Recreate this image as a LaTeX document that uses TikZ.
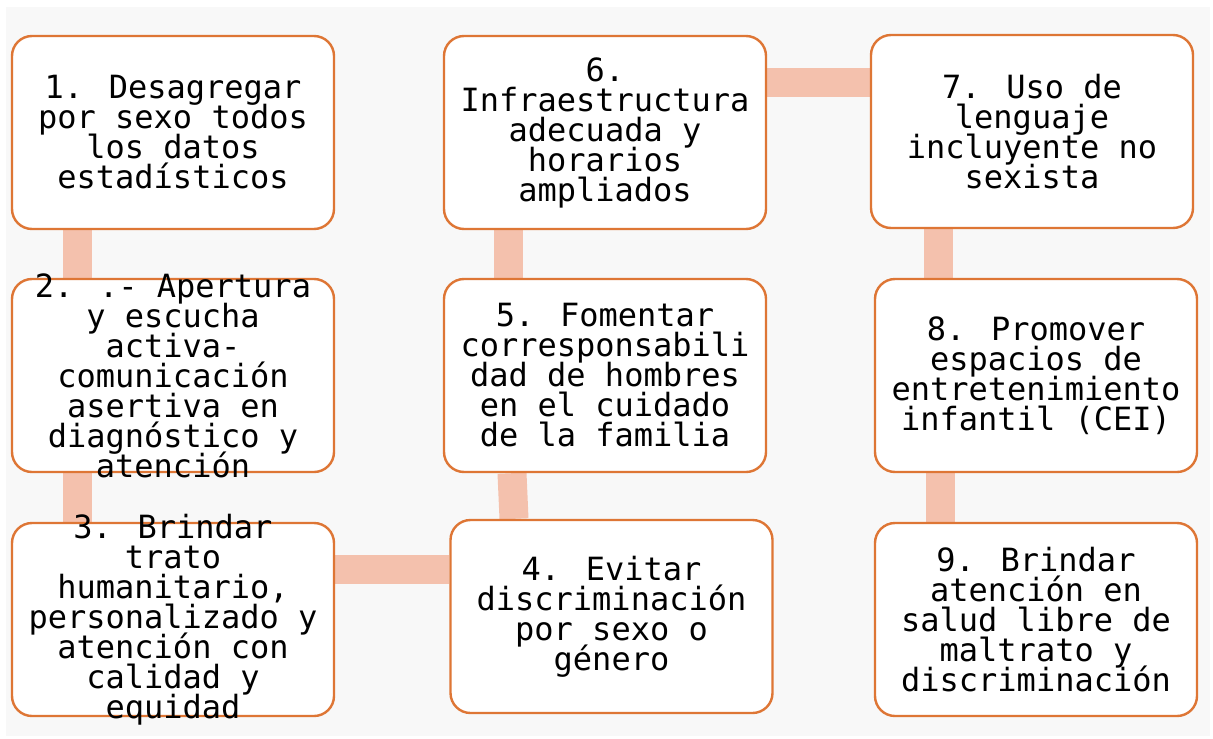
\documentclass[tikz,border=0pt]{standalone}
\usepackage{fontspec}
\usepackage{tikz}
\usetikzlibrary{backgrounds}
\newfontfamily\boxfont{DejaVu Sans Mono}
\newcommand\stepfont{\boxfont\fontsize{16}{15}\selectfont\lineskiplimit=-100pt\relax\lineskip=0pt\relax}
\definecolor{boxline}{HTML}{DE7635}
\definecolor{linkfill}{HTML}{F4C1AD}
\definecolor{pagegray}{HTML}{F8F8F8}
\tikzset{
  stepbox/.style={draw=boxline, line width=1.2pt, fill=white, rounded corners=10pt,
    minimum width=161pt, minimum height=96.5pt, inner sep=0pt},
  steptext/.style={align=center, inner sep=0pt, font=\stepfont},
  link/.style={line width=14.5pt, draw=linkfill}
}

\begin{document}
\begin{tikzpicture}[x=0.5pt, y=-0.5pt]
      \useasboundingbox (0,0) rectangle (1213,738);

      % Boxes
      \node[stepbox] (b1) at (173,132.5) {};
      \node[stepbox] (b2) at (173,375.5) {};
      \node[stepbox] (b3) at (173,619.5) {};
      \node[stepbox] (b4) at (611.5,616.5) {};
      \node[stepbox] (b5) at (605,375.5) {};
      \node[stepbox] (b6) at (605,132.5) {};
      \node[stepbox] (b7) at (1032,131.5) {};
      \node[stepbox] (b8) at (1036,375.5) {};
      \node[stepbox] (b9) at (1036,619.5) {};

      % Box texts
      \node[steptext] (t1) at (b1) {1. Desagregar\\por sexo todos\\los datos\\estadísticos};
      \node[steptext] (t2) at (b2) {2. .- Apertura\\y escucha\\activa-\\comunicación\\asertiva en\\diagnóstico y\\atención};
      \node[steptext] (t3) at (b3) {3. Brindar\\trato\\humanitario,\\personalizado y\\atención con\\calidad y\\equidad};
      \node[steptext] (t4) at (b4) {4. Evitar\\discriminación\\por sexo o\\género};
      \node[steptext] (t5) at (b5) {5. Fomentar\\corresponsabili\\dad de hombres\\en el cuidado\\de la familia};
      \node[steptext] (t6) at (b6) {6.\\Infraestructura\\adecuada y\\horarios\\ampliados};
      \node[steptext] (t7) at (b7) {7. Uso de\\lenguaje\\incluyente no\\sexista};
      \node[steptext] (t8) at (b8) {8. Promover\\espacios de\\entretenimiento\\infantil (CEI)};
      \node[steptext] (t9) at (b9) {9. Brindar\\atención en\\salud libre de\\maltrato y\\discriminación};

      \begin{scope}[on background layer]
        \fill[pagegray] (6,7) rectangle (1210,736);
        % Links
        \draw[link] ([xshift=-48pt]b1.south) -- ([xshift=-48pt]b2.north);
        \draw[link] ([xshift=-48pt]b2.south) -- ([xshift=-48pt]b3.north);
        \draw[link] ([yshift=25.25pt]b3.east) -- ([yshift=23.75pt]b4.west);
        \draw[link] ([xshift=-48.75pt]b4.north) -- ([xshift=-46.5pt]b5.south);
        \draw[link] ([xshift=-48.5pt]b5.north) -- ([xshift=-48.5pt]b6.south);
        \draw[link] ([yshift=24.75pt]b6.east) -- ([yshift=24.25pt]b7.west);
        \draw[link] ([xshift=-47pt]b7.south) -- ([xshift=-49pt]b8.north);
        \draw[link] ([xshift=-48pt]b8.south) -- ([xshift=-48pt]b9.north);
      \end{scope}
    \end{tikzpicture}
\end{document}
